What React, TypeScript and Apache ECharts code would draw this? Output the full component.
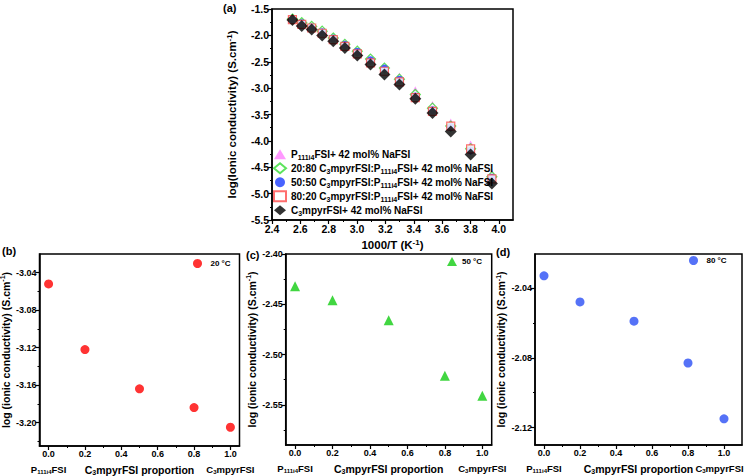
import React, { useEffect, useRef } from "react";
import * as echarts from "echarts";

const FONT = "'Liberation Sans', Arial, Helvetica, sans-serif";

// ---------- Panel (a) data ----------
const inverseTemperature = [2.544, 2.61, 2.68, 2.754, 2.832, 2.914, 3.002, 3.095, 3.193, 3.299, 3.411, 3.532, 3.661, 3.801, 3.951];
const condP111i4 = [-1.68, -1.75, -1.82, -1.91, -2.03, -2.15, -2.28, -2.43, -2.6, -2.79, -3.05, -3.33, -3.66, -4.08, -4.62];
const cond2080 = [-1.69, -1.76, -1.83, -1.92, -2.05, -2.17, -2.3, -2.45, -2.62, -2.83, -3.12, -3.38, -3.72, -4.15, -4.68];
const cond5050 = [-1.7, -1.77, -1.85, -1.94, -2.06, -2.18, -2.31, -2.47, -2.63, -2.84, -3.16, -3.42, -3.74, -4.18, -4.7];
const cond8020 = [-1.7, -1.79, -1.86, -1.96, -2.08, -2.21, -2.35, -2.52, -2.68, -2.88, -3.18, -3.44, -3.72, -4.15, -4.72];
const condC3mpyr = [-1.71, -1.82, -1.89, -2.0, -2.11, -2.24, -2.38, -2.55, -2.74, -2.93, -3.2, -3.47, -3.82, -4.26, -4.81];

const nameP111 = "P111i4FSI+ 42 mol% NaFSI";
const name2080 = "20:80 C3mpyrFSI:P111i4FSI+ 42 mol% NaFSI";
const name5050 = "50:50 C3mpyrFSI:P111i4FSI+ 42 mol% NaFSI";
const name8020 = "80:20 C3mpyrFSI:P111i4FSI+ 42 mol% NaFSI";
const nameC3 = "C3mpyrFSI+ 42 mol% NaFSI";
const legendRich: Record<string, string> = {
  [nameP111]: "P{sub|111i4}FSI+ 42 mol% NaFSI",
  [name2080]: "20:80 C{sub|3}mpyrFSI:P{sub|111i4}FSI+ 42 mol% NaFSI",
  [name5050]: "50:50 C{sub|3}mpyrFSI:P{sub|111i4}FSI+ 42 mol% NaFSI",
  [name8020]: "80:20 C{sub|3}mpyrFSI:P{sub|111i4}FSI+ 42 mol% NaFSI",
  [nameC3]: "C{sub|3}mpyrFSI+ 42 mol% NaFSI",
};

// ---------- Panels (b), (c), (d) data ----------
const proportion = [0, 0.2, 0.5, 0.8, 1.0];
const cond20C = [-3.052, -3.122, -3.164, -3.184, -3.205];
const cond50C = [-2.432, -2.446, -2.466, -2.521, -2.541];
const cond80C = [-2.033, -2.048, -2.059, -2.083, -2.115];

// ---------- Tick values ----------
const ticksAX = [2.4, 2.6, 2.8, 3.0, 3.2, 3.4, 3.6, 3.8, 4.0];
const minorAX = [2.5, 2.7, 2.9, 3.1, 3.3, 3.5, 3.7, 3.9];
const ticksAY = [-5.5, -5.0, -4.5, -4.0, -3.5, -3.0, -2.5, -2.0, -1.5];
const minorAY = [-5.25, -4.75, -4.25, -3.75, -3.25, -2.75, -2.25, -1.75];
const ticksProp = [0, 0.2, 0.4, 0.6, 0.8, 1.0];
const minorProp = [0.1, 0.3, 0.5, 0.7, 0.9];
const ticksBY = [-3.2, -3.16, -3.12, -3.08, -3.04];
const minorBY = [-3.22, -3.18, -3.14, -3.1, -3.06];
const ticksCY = [-2.55, -2.5, -2.45, -2.4];
const minorCY = [-2.575, -2.525, -2.475, -2.425];
const ticksDY = [-2.12, -2.08, -2.04];
const minorDY = [-2.1, -2.06];

const boldText = { fontFamily: FONT, fontWeight: "bold" as const, color: "#000" };
const makeRich = (size: number) => ({
  sub: { ...boldText, fontSize: Math.round(size * 0.68), lineHeight: Math.round(size * 0.7), verticalAlign: "bottom" },
  sup: { ...boldText, fontSize: Math.round(size * 0.68), lineHeight: Math.round(size * 0.7), verticalAlign: "top" },
  pad: { width: 9 },
});

function mainAxis(grid: number, pos: string, min: number, max: number, ticks: number[], decimals: number, fontSize: number, extra: any = {}) {
  return {
    type: "value",
    gridIndex: grid,
    position: pos,
    min,
    max,
    axisLine: { show: true, onZero: false, lineStyle: { color: "#000", width: 1.5 } },
    axisTick: { show: true, inside: false, length: 4, customValues: ticks, lineStyle: { color: "#000", width: 1.2 } },
    minorTick: { show: false },
    axisLabel: {
      show: true,
      customValues: ticks,
      formatter: (v: number) => Number(v).toFixed(decimals),
      ...boldText,
      fontSize,
      margin: 3,
    },
    splitLine: { show: false },
    ...extra,
  };
}

function minorAxis(grid: number, pos: string, min: number, max: number, ticks: number[]) {
  return {
    type: "value",
    gridIndex: grid,
    position: pos,
    min,
    max,
    axisLine: { show: false, onZero: false },
    axisLabel: { show: false },
    splitLine: { show: false },
    axisTick: { show: true, inside: false, length: 2, customValues: ticks, lineStyle: { color: "#000", width: 1 } },
  };
}

function endNamesAxis(grid: number, min: number, max: number, padRight: boolean) {
  return {
    type: "value",
    gridIndex: grid,
    position: "bottom",
    min,
    max,
    axisLine: { show: false, onZero: false },
    axisTick: { show: false },
    splitLine: { show: false },
    axisLabel: {
      show: true,
      customValues: [0, 1],
      formatter: (v: number) => (v < 0.5 ? "P{sub|111i4}FSI" : padRight ? "C{sub|3}mpyrFSI{pad|}" : "C{sub|3}mpyrFSI"),
      ...boldText,
      fontSize: 9.5,
      lineHeight: 12,
      margin: 17,
      rich: makeRich(9.5),
    },
  };
}

export default function App() {
  const ref = useRef<HTMLDivElement>(null);

  useEffect(() => {
    if (!ref.current) return;
    const chart = echarts.init(ref.current, null, { renderer: "svg" });

    const gridBase = { show: true, borderColor: "#000", borderWidth: 1.5, backgroundColor: "transparent", containLabel: false, outerBoundsMode: "none" };
    const grids = [
      { ...gridBase, left: 272, top: 9, width: 241, height: 211 },
      { ...gridBase, left: 39.5, top: 254, width: 200, height: 192 },
      { ...gridBase, left: 285.7, top: 254, width: 206, height: 191 },
      { ...gridBase, left: 535, top: 254, width: 207, height: 191 },
    ];

    const propName = () => ({
      name: "C{sub|3}mpyrFSI proportion",
      nameLocation: "middle",
      nameGap: 17,
      nameTextStyle: { ...boldText, fontSize: 10.5, lineHeight: 13, rich: makeRich(10.5) },
    });
    const yName = (gap: number) => ({
      name: "log (ionic conductivity) (S.cm{sup|-1})",
      nameLocation: "middle",
      nameRotate: 90,
      nameGap: gap,
      nameTextStyle: { ...boldText, fontSize: 10.5, lineHeight: 13, rich: makeRich(10.5) },
    });

    const xAxes: any[] = [
      // (a)
      mainAxis(0, "bottom", 2.4, 4.1, ticksAX, 1, 10.5, {
        name: "1000/T (K{sup|-1})",
        nameLocation: "middle",
        nameGap: 18,
        nameTextStyle: { ...boldText, fontSize: 11.5, lineHeight: 14, rich: makeRich(11.5) },
      }),
      minorAxis(0, "bottom", 2.4, 4.1, minorAX),
      // (b)
      mainAxis(1, "bottom", -0.05, 1.05, ticksProp, 1, 9, propName()),
      minorAxis(1, "bottom", -0.05, 1.05, minorProp),
      endNamesAxis(1, -0.05, 1.05, false),
      // (c)
      mainAxis(2, "bottom", -0.05, 1.05, ticksProp, 1, 9, propName()),
      minorAxis(2, "bottom", -0.05, 1.05, minorProp),
      endNamesAxis(2, -0.05, 1.05, false),
      // (d)
      mainAxis(3, "bottom", -0.05, 1.1, ticksProp, 1, 9, propName()),
      minorAxis(3, "bottom", -0.05, 1.1, minorProp),
      endNamesAxis(3, -0.05, 1.1, true),
    ];

    const yAxes: any[] = [
      mainAxis(0, "left", -5.5, -1.5, ticksAY, 1, 10.5, {
        name: "log(Ionic conductivity) (S.cm{sup|-1})",
        nameLocation: "middle",
        nameRotate: 90,
        nameGap: 33,
        nameTextStyle: { ...boldText, fontSize: 11.5, lineHeight: 14, rich: makeRich(11.5) },
      }),
      minorAxis(0, "left", -5.5, -1.5, minorAY),
      mainAxis(1, "left", -3.225, -3.02, ticksBY, 2, 9, yName(23)),
      minorAxis(1, "left", -3.225, -3.02, minorBY),
      mainAxis(2, "left", -2.59, -2.4, ticksCY, 2, 9, yName(22)),
      minorAxis(2, "left", -2.59, -2.4, minorCY),
      mainAxis(3, "left", -2.13, -2.0205, ticksDY, 2, 9, yName(22)),
      minorAxis(3, "left", -2.13, -2.0205, minorDY),
    ];

    const pairs = (xs: number[], ys: number[]) => xs.map((x, i) => [x, ys[i]]);

    const series: any[] = [
      { name: nameP111, type: "scatter", xAxisIndex: 0, yAxisIndex: 0, symbol: "triangle", symbolSize: 9, itemStyle: { color: "#ff80ff" }, data: pairs(inverseTemperature, condP111i4) },
      { name: name2080, type: "scatter", xAxisIndex: 0, yAxisIndex: 0, symbol: "diamond", symbolSize: 10, itemStyle: { color: "#ffffff", borderColor: "#33dd33", borderWidth: 1.2 }, data: pairs(inverseTemperature, cond2080) },
      { name: name5050, type: "scatter", xAxisIndex: 0, yAxisIndex: 0, symbol: "circle", symbolSize: 8, itemStyle: { color: "#1a3cff" }, data: pairs(inverseTemperature, cond5050) },
      { name: name8020, type: "scatter", xAxisIndex: 0, yAxisIndex: 0, symbol: "rect", symbolSize: 8, itemStyle: { color: "#ffffff", borderColor: "#ff4a4a", borderWidth: 1.2 }, data: pairs(inverseTemperature, cond8020) },
      { name: nameC3, type: "scatter", xAxisIndex: 0, yAxisIndex: 0, symbol: "diamond", symbolSize: 12, itemStyle: { color: "#000000" }, data: pairs(inverseTemperature, condC3mpyr) },
      { name: "20 °C", type: "scatter", xAxisIndex: 2, yAxisIndex: 2, symbol: "circle", symbolSize: 9, itemStyle: { color: "#ff0000" }, data: pairs(proportion, cond20C) },
      { name: "50 °C", type: "scatter", xAxisIndex: 5, yAxisIndex: 4, symbol: "triangle", symbolSize: 10, itemStyle: { color: "#11cc11" }, data: pairs(proportion, cond50C) },
      { name: "80 °C", type: "scatter", xAxisIndex: 8, yAxisIndex: 6, symbol: "circle", symbolSize: 9, itemStyle: { color: "#2a4ff5" }, data: pairs(proportion, cond80C) },
    ];

    const smallLegend = (name: string, left: number, top: number, w: number) => ({
      data: [name],
      left,
      top,
      orient: "vertical",
      itemWidth: w,
      itemHeight: 9,
      symbolKeepAspect: true,
      padding: 0,
      selectedMode: false,
      textStyle: { ...boldText, fontSize: 8 },
    });

    chart.setOption({
      animation: false,
      backgroundColor: "#ffffff",
      grid: grids,
      xAxis: xAxes,
      yAxis: yAxes,
      series,
      legend: [
        {
          data: [nameP111, name2080, name5050, name8020, nameC3],
          left: 273,
          top: 148,
          orient: "vertical",
          itemWidth: 12,
          itemHeight: 10,
          itemGap: 1.5,
          padding: 0,
          selectedMode: false,
          formatter: (n: string) => legendRich[n] || n,
          textStyle: { ...boldText, fontSize: 10, lineHeight: 12.5, rich: makeRich(10) },
        },
        smallLegend("20 °C", 193, 259, 16),
        smallLegend("50 °C", 447, 257, 10),
        smallLegend("80 °C", 689, 256, 16),
      ],
      graphic: [
        { type: "text", left: 223, top: 2, style: { text: "(a)", ...boldText, fill: "#000", fontSize: 11 } },
        { type: "text", left: 2, top: 245, style: { text: "(b)", ...boldText, fill: "#000", fontSize: 11 } },
        { type: "text", left: 246, top: 249, style: { text: "(c)", ...boldText, fill: "#000", fontSize: 11 } },
        { type: "text", left: 496, top: 246, style: { text: "(d)", ...boldText, fill: "#000", fontSize: 11 } },
      ],
    });

    return () => chart.dispose();
  }, []);

  return <div ref={ref} style={{ position: "fixed", left: 0, top: 0, width: 746, height: 476 }} />;
}
